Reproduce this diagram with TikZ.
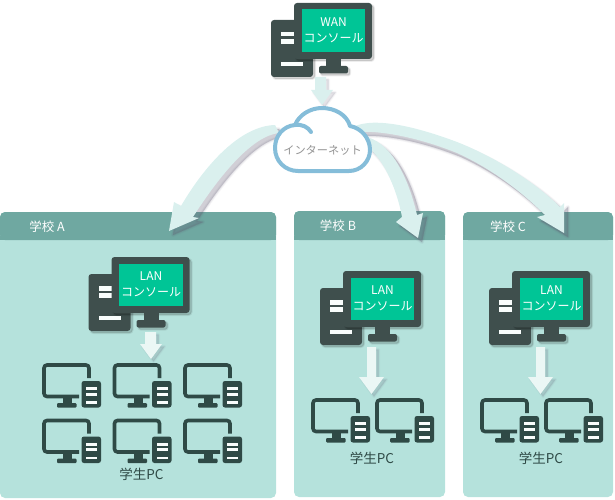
\documentclass[tikz,border=0pt]{standalone}
\usepackage{fontspec}
\setmainfont{Noto Sans CJK JP}
\definecolor{hdr}{HTML}{6FA8A1}
\definecolor{body}{HTML}{B5E2DC}
\definecolor{cons}{HTML}{3F4F4D}
\definecolor{scr}{HTML}{00C596}
\definecolor{pcdark}{HTML}{2F4A46}
\definecolor{curve}{HTML}{DAF0EE}
\definecolor{lanarrow}{HTML}{EBF7F5}
\definecolor{cloudc}{HTML}{85BDD9}
\definecolor{shad}{HTML}{5E5870}
\tikzset{
  softshadow/.style={
    preaction={fill=shad,draw=shad,line width=4pt,line join=round,opacity=.05,transform canvas={shift={(4pt,-4pt)}}},
    preaction={fill=shad,draw=shad,line width=2.5pt,line join=round,opacity=.07,transform canvas={shift={(4pt,-4pt)}}},
    preaction={fill=shad,draw=shad,line width=1pt,line join=round,opacity=.09,transform canvas={shift={(4pt,-4pt)}}},
    preaction={fill=shad,opacity=.11,transform canvas={shift={(4pt,-4pt)}}}},
  lightshadow/.style={
    preaction={fill=shad,draw=shad,line width=3pt,line join=round,opacity=.04,transform canvas={shift={(2.5pt,-2.5pt)}}},
    preaction={fill=shad,draw=shad,line width=1.5pt,line join=round,opacity=.06,transform canvas={shift={(2.5pt,-2.5pt)}}},
    preaction={fill=shad,opacity=.08,transform canvas={shift={(2.5pt,-2.5pt)}}}},
  iconshadow/.style={
    preaction={fill=black,draw=black,line width=2pt,line join=round,opacity=.07,transform canvas={shift={(2pt,-2pt)}}},
    preaction={fill=black,opacity=.10,transform canvas={shift={(2pt,-2pt)}}}},
  panelbody/.style={fill=body},
  panelhead/.style={fill=hdr},
  headlabel/.style={text=white,font=\fontsize{12.5}{14}\selectfont,inner sep=0pt,anchor=center},
  screenlabel/.style={text=white,font=\fontsize{12}{15.5}\selectfont,align=center,inner sep=0pt},
  pclabel/.style={text=pcdark,font=\fontsize{13.5}{15}\selectfont,inner sep=0pt},
  cloudlabel/.style={text=black!42,font=\fontsize{11.2}{14}\selectfont,inner sep=0pt},
  curvearrow/.style={fill=curve,softshadow},
  lanarrowst/.style={fill=lanarrow,lightshadow},
  slot/.style={fill=white!92!body},
}
% #1 name, #2 x, #3 y (monitor corner), #4 text
\newcommand{\consoleicon}[4]{%
\begin{scope}[shift={(#2,#3)}]
  \fill[cons,rounded corners=3,iconshadow] (-23,17) rectangle (19,74);
  \fill[slot] (-13,29) rectangle (0,33.5);
  \fill[slot] (-13,36) rectangle (0,41);
  \fill[slot] (-13,59) rectangle (9,63);
  \fill[cons,rounded corners=3,iconshadow] (0,0) rectangle (78,56);
  \fill[cons] (32,56) rectangle (47,63);
  \fill[cons,rounded corners=2,iconshadow] (25,63) rectangle (54,70.5);
  \fill[scr] (7.5,6.5) rectangle (71,49);
  \node[screenlabel] (#1) at (39.5,27.5) {#4};
\end{scope}}
% #1 x, #2 y (monitor corner)
\newcommand{\pcicon}[2]{%
\begin{scope}[shift={(#1,#2)}]
  \draw[pcdark,line width=3.6pt,rounded corners=3] (47,15) -- (47,2) -- (2,2) -- (2,33.5) -- (37,33.5);
  \fill[pcdark] (21,35) rectangle (30,41);
  \fill[pcdark,rounded corners=1] (15,40) rectangle (34.5,44.5);
  \fill[pcdark,rounded corners=2.5] (39.5,18) rectangle (59,44.5);
  \fill[slot] (44,24) rectangle (55,27);
  \fill[slot] (44,29.5) rectangle (55,32.5);
  \fill[slot] (44,38) rectangle (55,40.5);
\end{scope}}
\begin{document}
\begin{tikzpicture}[x=1pt,y=-1pt]
\useasboundingbox (0,0) rectangle (615,500);
% panels
\fill[panelbody,rounded corners=5] (0,212) rectangle (276,498);
\fill[panelhead,rounded corners=5] (0,240) -- (0,212) -- (276,212) -- (276,240) -- cycle;
\fill[panelbody,rounded corners=5] (294,211) rectangle (445,497);
\fill[panelhead,rounded corners=5] (294,240) -- (294,211) -- (445,211) -- (445,240) -- cycle;
\fill[panelbody,rounded corners=5] (463,212) rectangle (613,497);
\fill[panelhead,rounded corners=5] (463,240) -- (463,212) -- (613,212) -- (613,240) -- cycle;
\fill[hdr] (0,236) rectangle (276,240);
\fill[hdr] (294,236) rectangle (445,240);
\fill[hdr] (463,236) rectangle (613,240);
\node[headlabel] (schoolA) at (47,226.5) {学校~A};
\node[headlabel] (schoolB) at (338,226) {学校~B};
\node[headlabel] (schoolC) at (508,226.5) {学校~C};
% consoles
\consoleicon{wan}{294}{3}{WAN\\コンソール}
\consoleicon{lanA}{111.5}{257}{LAN\\コンソール}
\consoleicon{lanB}{343}{271}{LAN\\コンソール}
\consoleicon{lanC}{512}{271}{LAN\\コンソール}
% student PCs
\foreach \px in {42,112.5,183}{\foreach \py in {363,418.5}{\pcicon{\px}{\py}}}
\pcicon{311}{398}\pcicon{375}{398}
\pcicon{480}{398}\pcicon{544}{398}
\node[pclabel] (pcA) at (141.5,474) {学生PC};
\node[pclabel] (pcB) at (372,458.5) {学生PC};
\node[pclabel] (pcC) at (541,458.5) {学生PC};
% straight arrows
\fill[curve,lightshadow] (315,77) -- (326,77) -- (326,90) -- (333,90) -- (322,105) -- (311,90) -- (315,90) -- cycle;
\fill[lanarrowst] (145,332) -- (156,332) -- (156,344) -- (162,344) -- (151,359) -- (140,344) -- (145,344) -- cycle;
\fill[lanarrowst] (367,347) -- (376,347) -- (376,377) -- (384,377) -- (371.5,394) -- (359,377) -- (367,377) -- cycle;
\fill[lanarrowst] (536,347) -- (545,347) -- (545,377) -- (553,377) -- (540.5,394) -- (528,377) -- (536,377) -- cycle;
% curved arrows
\fill[curvearrow] (169,231) -- (174,202) -- (181,206) .. controls (205,165) and (240,126) .. (275,125) -- (279,133) .. controls (252,136) and (220,175) .. (193,217) -- (199,218) -- cycle;
\fill[curvearrow] (418,238) -- (396,222) -- (402,217) .. controls (397,190) and (385,162) .. (369,148) -- (367,137) .. controls (395,145) and (410,185) .. (417,215) -- (423,213) -- cycle;
\fill[curvearrow] (564,233) -- (537,217) -- (545,215) .. controls (520,190) and (490,168) .. (457,153) .. controls (425,140) and (385,130) .. (356,132) -- (353,127) .. controls (375,116) and (420,128) .. (457,142) .. controls (495,157) and (535,182) .. (560,207) -- (564,203) -- cycle;
% cloud
\draw[cloudc,line width=4pt,fill=white,line join=round]
  (298,171) -- (349,171) .. controls (361,171) and (370,161) .. (370,150)
  .. controls (370,138) and (361,128) .. (350,126)
  .. controls (347,115) and (335,108) .. (322,108)
  .. controls (310,108) and (299,115) .. (295,125)
  .. controls (283,126) and (275,136) .. (275,148)
  .. controls (275,161) and (285,171) .. (298,171) -- cycle;
\draw[cloudc,line width=4pt,line cap=round] (295,125) .. controls (302,124) and (308,127) .. (311,132);
\node[cloudlabel] (internet) at (322.5,150) {インターネット};
\end{tikzpicture}
\end{document}
